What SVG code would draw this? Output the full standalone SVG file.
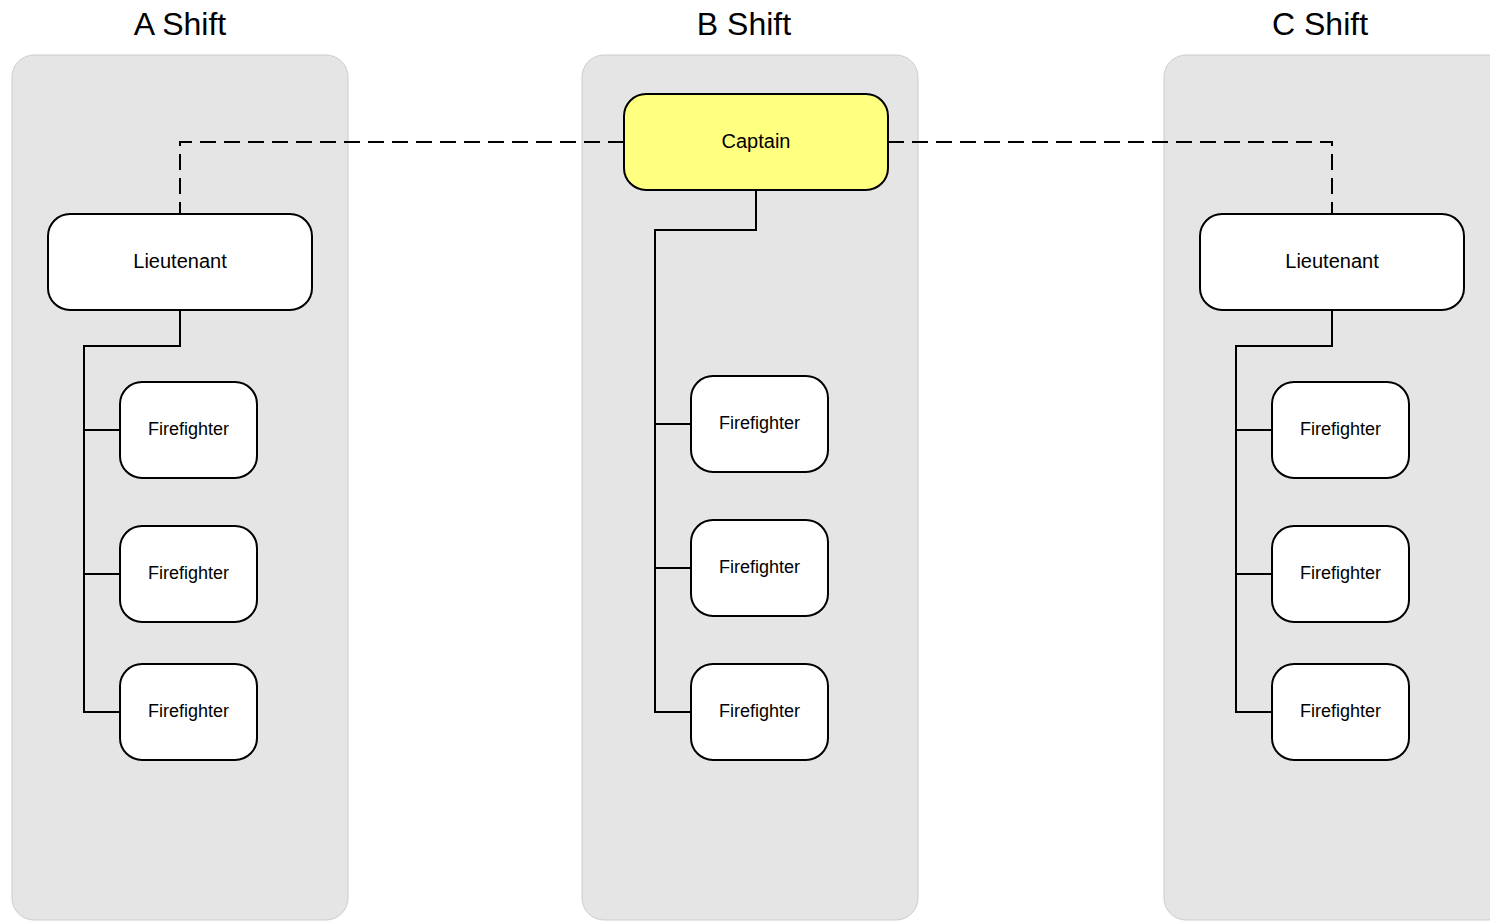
<svg xmlns="http://www.w3.org/2000/svg" width="1490" height="921" viewBox="0 0 1490 921">
<style>
.lane{fill:#e5e5e5;stroke:#cccccc;stroke-width:1}
.title{font-family:"Liberation Sans",Arial,sans-serif;font-size:32px;fill:#000;text-anchor:middle}
.node{fill:#ffffff;stroke:#000;stroke-width:2}
.cap{fill:#ffff80;stroke:#000;stroke-width:2}
.lbl{font-family:"Liberation Sans",Arial,sans-serif;font-size:20px;fill:#000;text-anchor:middle;dominant-baseline:central}
.ff{font-family:"Liberation Sans",Arial,sans-serif;font-size:18px;fill:#000;text-anchor:middle;dominant-baseline:central}
.solid{fill:none;stroke:#000;stroke-width:2}
.dash{fill:none;stroke:#000;stroke-width:2;stroke-dasharray:16 8}
</style>
<g id="lanes">
<rect class="lane" x="12" y="55" width="336" height="865" rx="22"/>
<rect class="lane" x="582" y="55" width="336" height="865" rx="22"/>
<rect class="lane" x="1164" y="55" width="346" height="865" rx="22"/>
<text class="title" x="180" y="35">A Shift</text>
<text class="title" x="744" y="35">B Shift</text>
<text class="title" x="1320" y="35">C Shift</text>
</g>
<g id="connectors">
<path class="dash" d="M624,142 H180 V214"/>
<path class="dash" d="M888,142 H1332 V214"/>
<path class="solid" d="M180,310 V346 H84 V712 H120 M84,430 H120 M84,574 H120"/>
<path class="solid" d="M756,190 V230 H655 V712 H691 M655,424 H691 M655,568 H691"/>
<path class="solid" d="M1332,310 V346 H1236 V712 H1272 M1236,430 H1272 M1236,574 H1272"/>
</g>
<g id="captain"><rect class="cap" x="624" y="94" width="264" height="96" rx="22"/><text class="lbl" x="756" y="141">Captain</text></g>
<g id="lieutenant-a"><rect class="node" x="48" y="214" width="264" height="96" rx="22"/><text class="lbl" x="180" y="261">Lieutenant</text></g>
<g id="lieutenant-c"><rect class="node" x="1200" y="214" width="264" height="96" rx="22"/><text class="lbl" x="1332" y="261">Lieutenant</text></g>
<g id="ff-a1"><rect class="node" x="120" y="382" width="137" height="96" rx="22"/><text class="ff" x="188.5" y="429">Firefighter</text></g>
<g id="ff-a2"><rect class="node" x="120" y="526" width="137" height="96" rx="22"/><text class="ff" x="188.5" y="573">Firefighter</text></g>
<g id="ff-a3"><rect class="node" x="120" y="664" width="137" height="96" rx="22"/><text class="ff" x="188.5" y="711">Firefighter</text></g>
<g id="ff-b1"><rect class="node" x="691" y="376" width="137" height="96" rx="22"/><text class="ff" x="759.5" y="423">Firefighter</text></g>
<g id="ff-b2"><rect class="node" x="691" y="520" width="137" height="96" rx="22"/><text class="ff" x="759.5" y="567">Firefighter</text></g>
<g id="ff-b3"><rect class="node" x="691" y="664" width="137" height="96" rx="22"/><text class="ff" x="759.5" y="711">Firefighter</text></g>
<g id="ff-c1"><rect class="node" x="1272" y="382" width="137" height="96" rx="22"/><text class="ff" x="1340.5" y="429">Firefighter</text></g>
<g id="ff-c2"><rect class="node" x="1272" y="526" width="137" height="96" rx="22"/><text class="ff" x="1340.5" y="573">Firefighter</text></g>
<g id="ff-c3"><rect class="node" x="1272" y="664" width="137" height="96" rx="22"/><text class="ff" x="1340.5" y="711">Firefighter</text></g>
</svg>
